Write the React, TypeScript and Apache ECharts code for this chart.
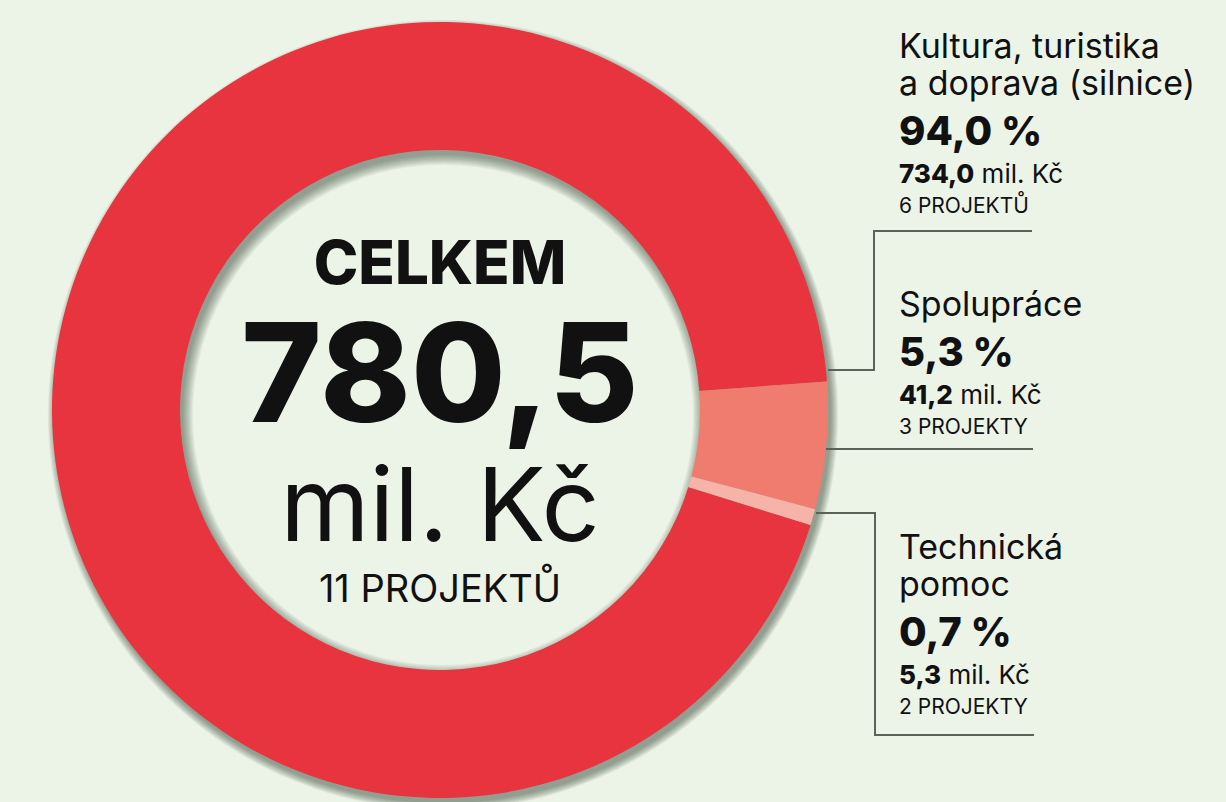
import React, { useEffect, useRef } from 'react';
import * as echarts from 'echarts';

// ---- data ----
const categories = ['Kultura, turistika\na doprava (silnice)', 'Spolupráce', 'Technická\npomoc'];
const amounts = [734.0, 41.2, 5.3]; // mil. Kč
const shares = [94.0, 5.3, 0.7]; // %
const projectCounts = [6, 3, 2];
const projectWords = ['PROJEKTŮ', 'PROJEKTY', 'PROJEKTY'];
const sliceColors = ['#e8343f', '#f07b6f', '#f6b4a9'];
const totalTitle = 'CELKEM';
const totalAmount = 780.5;
const totalProjects = 11;
const totalWord = 'PROJEKTŮ';
const unit = 'mil. Kč';

const fmt = (v: number) => v.toFixed(1).replace('.', ',');

const FONT = 'Inter';
const INK = '#111111';
const LINE = '#5c6259';
const BG = '#ecf4e8';

const CX = 440;
const CY = 410;
const R_IN = 260;
const R_OUT = 388;

function textEl(x: number, y: number, text: string, size: number, weight: string | number, align = 'left', rich?: any) {
  const style: any = {
    text,
    fill: INK,
    fontFamily: FONT,
    fontSize: size,
    fontWeight: weight,
    textAlign: align,
    textVerticalAlign: 'middle',
    align,
    verticalAlign: 'middle',
  };
  if (rich) style.rich = rich;
  return { type: 'text', x, y, silent: true, z: 10, style };
}

// label block layout (top line centre y for each block)
const blockX = 899;
const blockTops = [45, 303, 546];

function buildLabels() {
  const els: any[] = [];
  categories.forEach((cat, i) => {
    const lines = cat.split('\n');
    let y = blockTops[i];
    lines.forEach((ln, k) => {
      if (k > 0) y += 37;
      els.push(textEl(blockX, y, ln, 34, 400));
    });
    y += 48;
    els.push(textEl(blockX, y, fmt(shares[i]) + ' %', 40, 800));
    y += 43;
    els.push(
      textEl(blockX, y, '{b|' + fmt(amounts[i]) + '} {r|' + unit + '}', 26, 400, 'left', {
        b: { fontFamily: FONT, fontSize: 26, fontWeight: 800, fill: INK },
        r: { fontFamily: FONT, fontSize: 26, fontWeight: 400, fill: INK },
      })
    );
    y += 32;
    els.push(textEl(blockX, y, projectCounts[i] + ' ' + projectWords[i], 21, 400));
  });
  return els;
}

// centre block as one rich text (line boxes chosen so line centres sit at 262/372/504/588)
function centreBlock() {
  const text = [
    '{t|' + totalTitle + '}',
    '{n|' + fmt(totalAmount) + '}',
    '{u|' + unit + '}',
    '{p|' + totalProjects + ' ' + totalWord + '}',
  ].join('\n');
  return {
    type: 'text',
    x: CX,
    y: 421,
    silent: true,
    z: 10,
    style: {
      text,
      fill: INK,
      fontFamily: FONT,
      textAlign: 'center',
      textVerticalAlign: 'middle',
      align: 'center',
      verticalAlign: 'middle',
      rich: {
        t: { fontFamily: FONT, fontSize: 60, fontWeight: 800, fill: INK, lineHeight: 70, align: 'center' },
        n: { fontFamily: FONT, fontSize: 137, fontWeight: 800, fill: INK, lineHeight: 150, align: 'center' },
        u: { fontFamily: FONT, fontSize: 102, fontWeight: 400, fill: INK, lineHeight: 114, align: 'center' },
        p: { fontFamily: FONT, fontSize: 38, fontWeight: 400, fill: INK, lineHeight: 54, align: 'center' },
      },
    },
  };
}

const leaderLines = [
  [[828, 370], [874, 370], [874, 231], [1032, 231]],
  [[826, 449], [1033, 449]],
  [[816, 513], [875, 513], [875, 735], [1034, 735]],
];

// soft drop shadow built from stacked translucent rings
function shadowRings() {
  const els: any[] = [];
  for (let i = 0; i < 10; i++) {
    els.push({
      type: 'ring',
      silent: true,
      z: 0,
      shape: { cx: CX + 3, cy: CY + 5, r: R_OUT + i * 0.8, r0: R_IN - i * 1.1 },
      style: { fill: 'rgba(40,60,40,0.055)' },
    });
  }
  return els;
}

export default function App() {
  const ref = useRef<HTMLDivElement>(null);
  useEffect(() => {
    if (!ref.current) return;
    const chart = echarts.init(ref.current, undefined, { renderer: 'svg' });
    const sum = amounts.reduce((a, b) => a + b, 0);
    const firstAngle = (amounts[0] / sum) * 360;
    const startAngle = 4.2 + firstAngle;
    chart.setOption({
      animation: false,
      backgroundColor: BG,
      series: [
        {
          type: 'pie',
          silent: true,
          z: 2,
          center: [CX, CY],
          radius: [R_IN, R_OUT],
          startAngle,
          clockwise: true,
          label: { show: false },
          labelLine: { show: false },
          itemStyle: { borderWidth: 0 },
          data: categories.map((c, i) => ({
            name: c.replace('\n', ' '),
            value: amounts[i],
            itemStyle: { color: sliceColors[i] },
          })),
        },
      ],
      graphic: [
        ...shadowRings(),
        ...leaderLines.map((pts) => ({
          type: 'polyline',
          silent: true,
          z: 5,
          shape: { points: pts },
          style: { stroke: LINE, lineWidth: 2, fill: null },
        })),
        ...buildLabels(),
        centreBlock(),
      ],
    });
    return () => chart.dispose();
  }, []);
  return (
    <div
      ref={ref}
      style={{ position: 'fixed', left: 0, top: 0, width: 1226, height: 802, background: BG }}
    />
  );
}
